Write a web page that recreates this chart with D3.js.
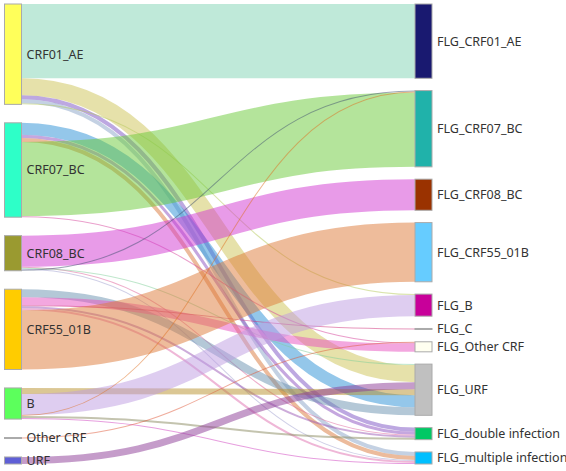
<!DOCTYPE html>
<html>
<head>
<meta charset="utf-8">
<script src="https://cdn.jsdelivr.net/npm/d3@7"></script>
<style>
  body { margin: 0; background: #fff; }
  svg { display: block; }
  .label { font-family: "Noto Sans", sans-serif; font-size: 12.5px; fill: #333; }
</style>
</head>
<body>
<div id="chart"></div>
<script>
// left column (source subtypes) and right column (FLG subtypes)
const leftNodes = ["CRF01_AE", "CRF07_BC", "CRF08_BC", "CRF55_01B", "B", "Other CRF", "URF"];
const rightNodes = ["FLG_CRF01_AE", "FLG_CRF07_BC", "FLG_CRF08_BC", "FLG_CRF55_01B", "FLG_B",
  "FLG_C", "FLG_Other CRF", "FLG_URF", "FLG_double infection", "FLG_multiple infection"];

const leftColors = ["#ffff5a", "#2effc8", "#9a9a30", "#ffcc00", "#5cff5c", "#aaaaaa", "#5f5fd6"];
const rightColors = ["#191970", "#20b2aa", "#9a3200", "#66ccff", "#c8009a",
  "#aaaaaa", "#fffff0", "#c0c0c0", "#00c864", "#00bfff"];

// links, listed per source in the order they leave the node
const links = [
  { source: "CRF01_AE", target: "FLG_CRF01_AE", value: 74 },
  { source: "CRF01_AE", target: "FLG_URF", value: 17 },
  { source: "CRF01_AE", target: "FLG_double infection", value: 4 },
  { source: "CRF01_AE", target: "FLG_multiple infection", value: 4 },
  { source: "CRF01_AE", target: "FLG_B", value: 1 },

  { source: "CRF07_BC", target: "FLG_URF", value: 12 },
  { source: "CRF07_BC", target: "FLG_double infection", value: 3 },
  { source: "CRF07_BC", target: "FLG_multiple infection", value: 4 },
  { source: "CRF07_BC", target: "FLG_CRF07_BC", value: 74 },
  { source: "CRF07_BC", target: "FLG_Other CRF", value: 1 },

  { source: "CRF08_BC", target: "FLG_CRF08_BC", value: 31 },
  { source: "CRF08_BC", target: "FLG_double infection", value: 1 },
  { source: "CRF08_BC", target: "FLG_URF", value: 1 },
  { source: "CRF08_BC", target: "FLG_multiple infection", value: 1 },
  { source: "CRF08_BC", target: "FLG_CRF07_BC", value: 1 },

  { source: "CRF55_01B", target: "FLG_URF", value: 8 },
  { source: "CRF55_01B", target: "FLG_Other CRF", value: 8 },
  { source: "CRF55_01B", target: "FLG_C", value: 1 },
  { source: "CRF55_01B", target: "FLG_double infection", value: 2 },
  { source: "CRF55_01B", target: "FLG_multiple infection", value: 2 },
  { source: "CRF55_01B", target: "FLG_CRF55_01B", value: 59 },

  { source: "B", target: "FLG_URF", value: 6 },
  { source: "B", target: "FLG_B", value: 21 },
  { source: "B", target: "FLG_CRF07_BC", value: 1 },
  { source: "B", target: "FLG_double infection", value: 2 },
  { source: "B", target: "FLG_multiple infection", value: 1 },

  { source: "Other CRF", target: "FLG_Other CRF", value: 1 },
  { source: "URF", target: "FLG_URF", value: 7 }
];

// link colours, same order as links
const linkColors = [
  "#7fd3b3", "#cdc355", "#7b52c4", "#8aa4c8", "#b5c95a",
  "#2a8fd6", "#8b4fc0", "#d9783a", "#69c937", "#d6409a",
  "#d137d1", "#e0609a", "#7fcf9a", "#a0a0d0", "#405070",
  "#6991af", "#e84fbf", "#d0307a", "#9b59b6", "#e070b0", "#dd7937",
  "#b8902a", "#bd9be1", "#e07020", "#8a8a60", "#d040c0",
  "#e05a3a", "#8b3a96"
];

// order in which links arrive at a target (top to bottom)
const targetOrder = {
  "FLG_CRF07_BC": ["CRF08_BC", "B", "CRF07_BC"],
  "FLG_Other CRF": ["Other CRF", "CRF07_BC", "CRF55_01B"],
  "FLG_URF": ["CRF08_BC", "CRF01_AE", "URF", "B", "CRF07_BC", "CRF55_01B"]
};

const width = 566, height = 471;
const margin = { top: 4, bottom: 7 };
const nodeWidth = 17, minPad = 12.3;

const svg = d3.select("#chart").append("svg")
  .attr("width", width)
  .attr("height", height);

// build nodes
const nodeMap = new Map();
leftNodes.forEach((n, i) => nodeMap.set(n, { name: n, col: 0, index: i, color: leftColors[i], out: [], in: [] }));
rightNodes.forEach((n, i) => nodeMap.set(n, { name: n, col: 1, index: i, color: rightColors[i], out: [], in: [] }));
links.forEach((l, i) => {
  l.color = linkColors[i];
  nodeMap.get(l.source).out.push(l);
  nodeMap.get(l.target).in.push(l);
});
nodeMap.forEach(n => {
  n.value = Math.max(d3.sum(n.out, d => d.value), d3.sum(n.in, d => d.value));
});
const columns = [leftNodes.map(n => nodeMap.get(n)), rightNodes.map(n => nodeMap.get(n))];

// scales
const innerH = height - margin.top - margin.bottom;
const ky = d3.min(columns, c => (innerH - (c.length - 1) * minPad) / d3.sum(c, d => d.value));
const total = d3.sum(columns[0], d => d.value);
const v = d3.scaleLinear().domain([0, total]).range([0, total * ky]);
const x = d3.scaleLinear().domain([0, 1]).range([4.5, 415]);

columns.forEach(col => {
  const pad = (innerH - v(d3.sum(col, d => d.value))) / (col.length - 1);
  let y = margin.top;
  col.forEach(n => {
    n.x0 = x(n.col);
    n.x1 = n.x0 + nodeWidth;
    n.y0 = y;
    n.y1 = y + v(n.value);
    y = n.y1 + pad;
  });
});

// link offsets
nodeMap.forEach(n => {
  let y = n.y0;
  n.out.forEach(l => {
    l.width = v(l.value);
    l.y0 = y + l.width / 2;
    y += l.width;
  });
  const order = targetOrder[n.name];
  const incoming = n.in.slice().sort((a, b) => order
    ? order.indexOf(a.source) - order.indexOf(b.source)
    : nodeMap.get(a.source).index - nodeMap.get(b.source).index);
  y = n.y0;
  incoming.forEach(l => {
    l.y1 = y + v(l.value) / 2;
    y += v(l.value);
  });
});

const linkPath = d3.linkHorizontal()
  .source(l => [nodeMap.get(l.source).x1, l.y0])
  .target(l => [nodeMap.get(l.target).x0, l.y1]);

svg.append("g")
  .attr("fill", "none")
  .selectAll("path")
  .data(links)
  .join("path")
  .attr("d", linkPath)
  .attr("stroke", d => d.color)
  .attr("stroke-opacity", 0.5)
  .attr("stroke-width", d => Math.max(1, d.width));

const allNodes = Array.from(nodeMap.values());

svg.append("g")
  .selectAll("rect")
  .data(allNodes)
  .join("rect")
  .attr("x", d => d.x0)
  .attr("y", d => d.y0)
  .attr("width", nodeWidth)
  .attr("height", d => Math.max(1, d.y1 - d.y0))
  .attr("fill", d => d.color)
  .attr("stroke", "#aaa")
  .attr("stroke-width", 1);

svg.append("g")
  .selectAll("text")
  .data(allNodes)
  .join("text")
  .attr("class", "label")
  .attr("x", d => d.x1 + 5)
  .attr("y", d => (d.y0 + d.y1) / 2)
  .attr("dy", "0.35em")
  .text(d => d.name);
</script>
</body>
</html>
